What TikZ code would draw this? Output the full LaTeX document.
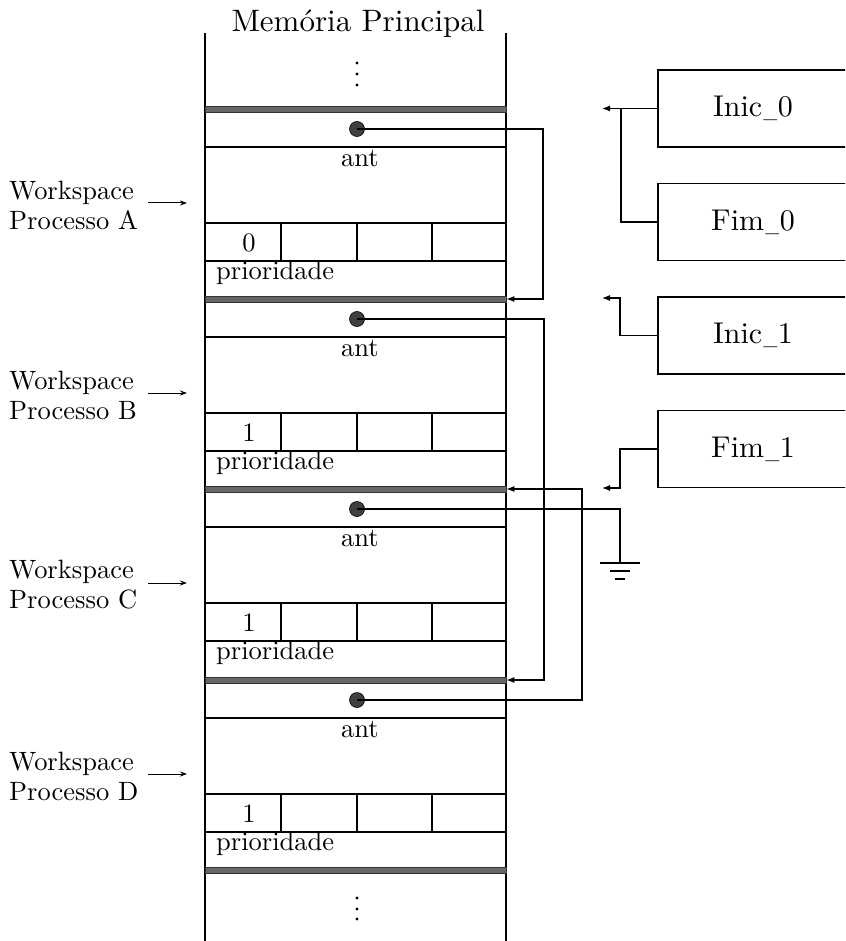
\documentclass[tikz,border=0pt]{standalone}
\usepackage{fontspec}
\setmainfont{lmroman10-regular.otf}
\usetikzlibrary{arrows.meta}
\newcommand\myusc{\kern.04em\scalebox{0.62}[1]{\_}\kern.02em}
\begin{document}
\begin{tikzpicture}[x=1pt,y=-1pt,
  every node/.style={font=\fontsize{26.5}{30}\selectfont, inner sep=0pt},
  ln/.style={line width=1.2pt},
  memwall/.style={line width=1.6pt},
  band/.style={draw=black!80, fill=black!60, line width=0.6pt, minimum width=301pt, minimum height=6pt, inner sep=0pt},
  ptrdot/.style={circle, fill=black!75, draw=black, line width=0.6pt, minimum size=15pt, inner sep=0pt},
  ptr/.style={line width=1.2pt, -{Latex[length=8pt,width=6pt]}},
  lblarrow/.style={line width=1pt, -{Stealth[length=7pt,width=5pt]}},
  regbox/.style={draw, line width=1.2pt, minimum width=190pt, minimum height=77pt, inner sep=0pt, font=\fontsize{30}{34}\selectfont},
  vdot/.style={circle, fill=black, inner sep=0pt, minimum size=3.2pt}
]
\path[use as bounding box, clip] (0,0) rectangle (845,941);

% title and memory walls
\node[font=\fontsize{31}{36}\selectfont] (title) at (358,24) {Memória Principal};
\draw[memwall] (205,33) -- (205,941);
\draw[memwall] (506,33) -- (506,941);

% top and bottom ellipsis
\node[vdot] (t1) at (357,63) {};
\node[vdot] (t2) at (357,74) {};
\node[vdot] (t3) at (357,85) {};
\node[vdot] (b1) at (357,898) {};
\node[vdot] (b2) at (357,909) {};
\node[vdot] (b3) at (357,919) {};

% workspaces
\foreach \n/\yo/\pr/\L in {A/106/0/A, B/296/1/B, C/486/1/C, D/677/1/D}{
  \node[band] (band\n) at (355.5,\yo+3) {};
  \node[ptrdot] (dot\n) at (357,\yo+23) {};
  \draw[ln] (205,\yo+41) -- (506,\yo+41);
  \node (ant\n) at (360,\yo+52) {ant};
  \draw[ln] (205,\yo+117) -- (506,\yo+117);
  \draw[ln] (205,\yo+155) -- (506,\yo+155);
  \draw[ln] (281,\yo+117) -- (281,\yo+155);
  \draw[ln] (357,\yo+117) -- (357,\yo+155);
  \draw[ln] (432,\yo+117) -- (432,\yo+155);
  \node (pri\n) at (249,\yo+137) {\pr};
  \node[anchor=west] (prl\n) at (216,\yo+167) {prioridade};
  \node[anchor=west, align=left] (ws\n) at (9,\yo+99) {Workspace\\Processo \L};
  \coordinate (wsa\n) at (187,\yo+97);
  \coordinate (ls\n) at (148,\yo+97);
  \draw[lblarrow] (ls\n) -- (wsa\n);
}
\node[band] (bandE) at (355.5,870) {};

% pointer chains
\coordinate (xA) at (543,0);
\coordinate (xB) at (544,0);
\coordinate (xD) at (582,0);
\coordinate (xC) at (620,0);
\draw[ptr] (dotA.center) -- (dotA -| xA) |- (bandB.east);
\draw[ptr] (dotB.center) -- (dotB -| xB) |- (bandD.east);
\draw[ptr] (dotD.center) -- (dotD -| xD) |- (bandC.east);
\coordinate (gnd) at (620,563);
\draw[ln] (dotC.center) -| (gnd);
\draw[ln] (600,563) -- (640,563);
\draw[ln] (610,571) -- (630,571);
\draw[ln] (615,579) -- (625,579);

% register boxes
\node[regbox] (I0) at (753,108.5) {Inic\myusc0};
\node[regbox] (F0) at (753,222) {Fim\myusc0};
\node[regbox] (I1) at (753,335.5) {Inic\myusc1};
\node[regbox] (F1) at (753,449) {Fim\myusc1};

\coordinate (tI0) at (602,108.5);
\coordinate (j0) at (621,108.5);
\draw[ptr] (I0.west) -- (tI0);
\draw[ln] (F0.west) -| (j0);

\coordinate (kI1) at (620,298);
\coordinate (tI1) at (602,298);
\draw[ptr] (I1.west) -| (kI1) -- (tI1);

\coordinate (kF1) at (620,488);
\coordinate (tF1) at (602,488);
\draw[ptr] (F1.west) -| (kF1) -- (tF1);
\end{tikzpicture}
\end{document}
